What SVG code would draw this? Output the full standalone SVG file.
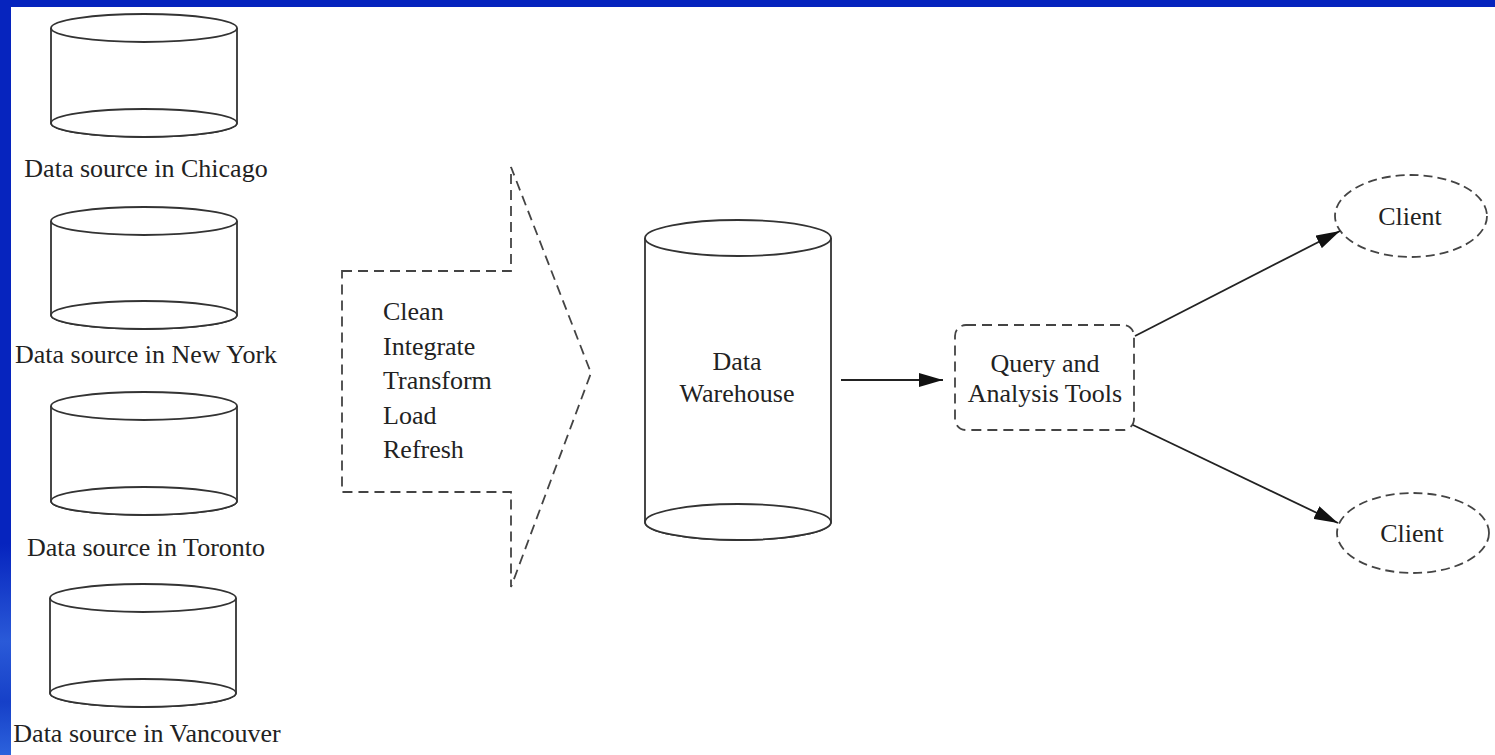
<svg xmlns="http://www.w3.org/2000/svg" width="1495" height="755" viewBox="0 0 1495 755">
<style>
text{font-family:"Liberation Serif","Times New Roman",serif;font-size:26px;fill:#222}
.cyl{fill:#fff;stroke:#333;stroke-width:1.8}
.dash{fill:#fff;stroke:#444;stroke-width:1.8;stroke-dasharray:10 6}
.edash{fill:#fff;stroke:#444;stroke-width:1.8;stroke-dasharray:9 5}
.conn{stroke:#222;stroke-width:1.8;fill:none}
</style>
<defs>
<marker id="ah" viewBox="0 0 24 14" refX="24" refY="7" markerWidth="24" markerHeight="14" markerUnits="userSpaceOnUse" orient="auto">
<path d="M0,0 L24,7 L0,14 Z" fill="#111"/>
</marker>
<linearGradient id="band" x1="0" y1="0" x2="0" y2="1">
<stop offset="0" stop-color="#0624be"/>
<stop offset="0.72" stop-color="#0624be"/>
<stop offset="0.85" stop-color="#2a5ad8"/>
<stop offset="0.93" stop-color="#1640c8"/>
<stop offset="1" stop-color="#2c62dc"/>
</linearGradient>
</defs>
<rect x="0" y="0" width="1495" height="755" fill="#fff"/>
<rect x="0" y="0" width="1495" height="7" fill="#0624be"/>
<rect x="0" y="0" width="11" height="755" fill="url(#band)"/>

<g id="src-chicago">
<path class="cyl" d="M51,28 V123 A93,14 0 0 0 237,123 V28"/>
<ellipse class="cyl" cx="144" cy="123" rx="93" ry="14" fill="none"/>
<ellipse class="cyl" cx="144" cy="28" rx="93" ry="14"/>
<text x="146" y="177" text-anchor="middle">Data source in Chicago</text>
</g>
<g id="src-newyork">
<path class="cyl" d="M51,221 V315 A93,14 0 0 0 237,315 V221"/>
<ellipse class="cyl" cx="144" cy="315" rx="93" ry="14"/>
<ellipse class="cyl" cx="144" cy="221" rx="93" ry="14"/>
<text x="146" y="363" text-anchor="middle">Data source in New York</text>
</g>
<g id="src-toronto">
<path class="cyl" d="M51,406 V501 A93,14 0 0 0 237,501 V406"/>
<ellipse class="cyl" cx="144" cy="501" rx="93" ry="14"/>
<ellipse class="cyl" cx="144" cy="406" rx="93" ry="14"/>
<text x="146" y="556" text-anchor="middle">Data source in Toronto</text>
</g>
<g id="src-vancouver">
<path class="cyl" d="M50,598 V693 A93,14 0 0 0 236,693 V598"/>
<ellipse class="cyl" cx="143" cy="693" rx="93" ry="14"/>
<ellipse class="cyl" cx="143" cy="598" rx="93" ry="14"/>
<text x="147" y="742" text-anchor="middle">Data source in Vancouver</text>
</g>

<g id="etl">
<path class="dash" d="M342,271 H511 V167 L591,373 L511,587 V492 H342 Z"/>
<text x="383" y="320">Clean</text>
<text x="383" y="354.5">Integrate</text>
<text x="383" y="389">Transform</text>
<text x="383" y="423.5">Load</text>
<text x="383" y="458">Refresh</text>
</g>

<g id="warehouse">
<path class="cyl" d="M645,238 V522 A93,18 0 0 0 831,522 V238"/>
<ellipse class="cyl" cx="738" cy="522" rx="93" ry="18"/>
<ellipse class="cyl" cx="738" cy="238" rx="93" ry="18"/>
<text x="737" y="370" text-anchor="middle">Data</text>
<text x="737" y="402" text-anchor="middle">Warehouse</text>
</g>

<g id="tools">
<rect class="dash" x="955" y="325" width="179" height="105" rx="11" ry="11"/>
<text x="1045" y="372" text-anchor="middle">Query and</text>
<text x="1045" y="402" text-anchor="middle">Analysis Tools</text>
</g>

<g id="client1">
<ellipse class="edash" cx="1411" cy="216" rx="76" ry="41"/>
<text x="1410" y="225" text-anchor="middle">Client</text>
</g>
<g id="client2">
<ellipse class="edash" cx="1413" cy="533" rx="76" ry="40"/>
<text x="1412" y="542" text-anchor="middle">Client</text>
</g>

<g id="connectors">
<line class="conn" x1="841" y1="380" x2="943" y2="380" marker-end="url(#ah)"/>
<line class="conn" x1="1135" y1="336" x2="1340" y2="231" marker-end="url(#ah)"/>
<line class="conn" x1="1133" y1="425" x2="1338" y2="523" marker-end="url(#ah)"/>
</g>
</svg>
